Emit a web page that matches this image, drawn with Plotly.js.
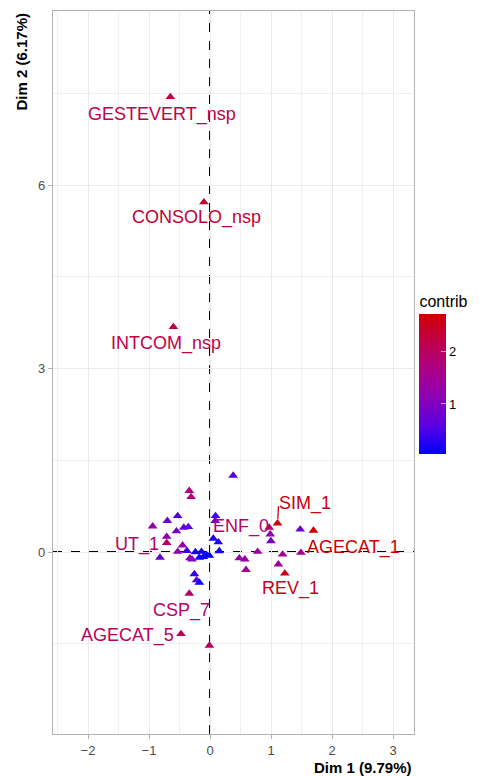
<!DOCTYPE html>
<html>
<head>
<meta charset="utf-8">
<script src="https://cdn.plot.ly/plotly-3.0.1.min.js"></script>
<style>html,body{margin:0;padding:0;background:#fff;}#chart{width:482px;height:776px;}</style>
</head>
<body>
<div id="chart"></div>
<script>
// Category coordinates on Dim 1 / Dim 2 and contribution
var names = ["GESTEVERT_nsp","CONSOLO_nsp","INTCOM_nsp","","","","","","","","","","","UT_1","","","","","","","","","","","","","","","","","","","","","","","","ENF_0","SIM_1","","","REV_1","","AGECAT_1","","","","","CSP_7","AGECAT_5",""];
var dim1 = [-0.65,-0.10,-0.60,0.38,-0.34,-0.31,-0.94,-0.70,-0.53,-0.43,-0.355,-0.55,-0.71,-0.71,-0.45,-0.82,-0.53,-0.38,-0.33,-0.295,-0.24,-0.175,-0.14,-0.11,-0.055,-0.01,0.09,0.087,0.054,0.136,0.152,0.48,0.57,0.59,0.78,0.987,0.998,0.97,1.107,1.19,1.12,1.227,1.478,1.696,1.49,-0.257,-0.22,-0.175,-0.34,-0.475,-0.01];
var dim2 = [7.44,5.72,3.68,1.25,1.00,0.90,0.42,0.51,0.59,0.40,0.41,0.34,0.25,0.15,0.11,-0.09,0.005,0.02,-0.10,-0.12,0.0,-0.09,0.005,-0.08,-0.05,-0.06,0.59,0.51,0.22,0.16,0.016,-0.10,-0.12,-0.29,0.005,0.29,0.18,0.40,0.47,-0.04,-0.20,-0.35,0.37,0.35,-0.01,-0.36,-0.46,-0.50,-0.68,-1.34,-1.53];
var contrib = [2.2,2.35,2.2,0.55,1.7,1.8,1.2,0.8,0.55,0.7,0.6,0.8,1.2,1.9,1.3,0.7,1.2,0.4,1.4,1.1,0.2,0.15,0.15,0.1,0.1,0.05,0.45,0.6,0.2,0.25,0.2,1.3,1.3,1.6,1.4,1.2,0.9,1.85,2.6,1.6,1.4,2.55,0.8,2.71,1.5,0.4,0.6,0.1,1.9,2.05,2.0];
// label offsets (label layout, ggrepel-like)
var labDx = {"GESTEVERT_nsp":-0.13,"CONSOLO_nsp":-0.12,"INTCOM_nsp":-0.12,"UT_1":-0.48,"ENF_0":-0.47,"SIM_1":0.453,"AGECAT_1":0.664,"REV_1":0.098,"CSP_7":-0.135,"AGECAT_5":-0.875};
var labDy = {"GESTEVERT_nsp":-0.28,"CONSOLO_nsp":-0.25,"INTCOM_nsp":-0.27,"UT_1":-0.024,"ENF_0":0.01,"SIM_1":0.32,"AGECAT_1":-0.273,"REV_1":-0.24,"CSP_7":-0.27,"AGECAT_5":-0.02};
var xTitle = "Dim 1 (9.79%)";
var yTitle = "Dim 2 (6.17%)";
var legendTitle = "contrib";

var cmin = 0.05, cmax = 2.71;
var cscale = [[0,"#0000FF"],[0.2,"#5A00E2"],[0.4,"#8C00B6"],[0.6,"#AC0088"],[0.8,"#C0004C"],[1,"#CD0000"]];
function hex2rgb(h){return [parseInt(h.substr(1,2),16),parseInt(h.substr(3,2),16),parseInt(h.substr(5,2),16)];}
function colorFor(v){
  var t=(v-cmin)/(cmax-cmin); t=Math.max(0,Math.min(1,t));
  for(var i=1;i<cscale.length;i++){
    if(t<=cscale[i][0]){
      var a=cscale[i-1],b=cscale[i];var f=(t-a[0])/(b[0]-a[0]);
      var ca=hex2rgb(a[1]),cb=hex2rgb(b[1]);
      return "rgb("+[0,1,2].map(function(k){return Math.round(ca[k]+(cb[k]-ca[k])*f);}).join(",")+")";
    }
  }
  return cscale[cscale.length-1][1];
}

var font = "Liberation Sans, Arial, sans-serif";
var trace = {
  type:"scatter", mode:"markers", x:dim1, y:dim2,
  marker:{symbol:"triangle-up", size:8.5, color:contrib, cmin:cmin, cmax:cmax, colorscale:cscale, line:{width:0},
    colorbar:{title:{text:legendTitle, side:"top", font:{size:16,color:"#000",family:font}},
      thickness:27, len:162, lenmode:"pixels", x:1.015, xanchor:"left", xpad:0, y:0.3873, yanchor:"bottom", ypad:0,
      outlinewidth:0, tickvals:[1,2], ticks:"inside", ticklen:5, tickcolor:"rgba(255,255,255,0.6)",
      tickfont:{size:13,color:"#000",family:font}}},
  hoverinfo:"skip", showlegend:false, cliponaxis:false
};

var annotations = [];
for (var i=0;i<names.length;i++){
  if(!names[i]) continue;
  annotations.push({x:dim1[i]+labDx[names[i]], y:dim2[i]+labDy[names[i]], xref:"x", yref:"y", text:names[i], showarrow:false,
    font:{size:18,color:colorFor(contrib[i]),family:font}, xanchor:"center", yanchor:"middle"});
}
annotations.push({xref:"paper", yref:"paper", x:1, y:-0.046, xanchor:"right", yanchor:"middle", text:"<b>"+xTitle+"</b>", showarrow:false, font:{size:15,color:"#000",family:font}});
annotations.push({xref:"paper", yref:"paper", x:-0.09, y:1, xanchor:"center", yanchor:"top", textangle:-90, text:"<b>"+yTitle+"</b>", showarrow:false, font:{size:15,color:"#000",family:font}});

var shapes = [
  {type:"line", xref:"x", yref:"paper", x0:0, x1:0, y0:0, y1:1, line:{color:"#000000", width:2, dash:"dash"}, layer:"below"},
  {type:"line", xref:"paper", yref:"y", x0:0, x1:1, y0:0, y1:0, line:{color:"#000000", width:2, dash:"dash"}, layer:"below"}
];
// SIM_1 leader segment
var si = names.indexOf("SIM_1");
shapes.push({type:"line", xref:"x", yref:"y", x0:dim1[si]+0.005, y0:dim2[si]+0.07, x1:dim1[si]+0.015, y1:dim2[si]+0.28, line:{color:colorFor(contrib[si]), width:1.3}});

var axisCommon = {showgrid:true, gridcolor:"#EBEBEB", gridwidth:1, zeroline:false, showline:true, mirror:true, linecolor:"#B3B3B3", linewidth:1.2,
  ticks:"outside", ticklen:4, tickcolor:"#B3B3B3", tickfont:{size:13,color:"#4D4D4D",family:font}};
var layout = {
  width:482, height:776, margin:{l:53, r:68, t:11, b:42}, paper_bgcolor:"#fff", plot_bgcolor:"#fff",
  xaxis:Object.assign({}, axisCommon, {range:[-2.574,3.344], tick0:0, dtick:1, minor:{dtick:0.5, showgrid:true, gridcolor:"#F0F0F0", gridwidth:1}}),
  yaxis:Object.assign({}, axisCommon, {range:[-2.975,8.845], tick0:0, dtick:3, minor:{dtick:1.5, showgrid:true, gridcolor:"#F0F0F0", gridwidth:1}}),
  annotations:annotations, shapes:shapes, font:{family:font}
};
Plotly.newPlot("chart",[trace],layout,{staticPlot:true, displayModeBar:false});
</script>
</body>
</html>
